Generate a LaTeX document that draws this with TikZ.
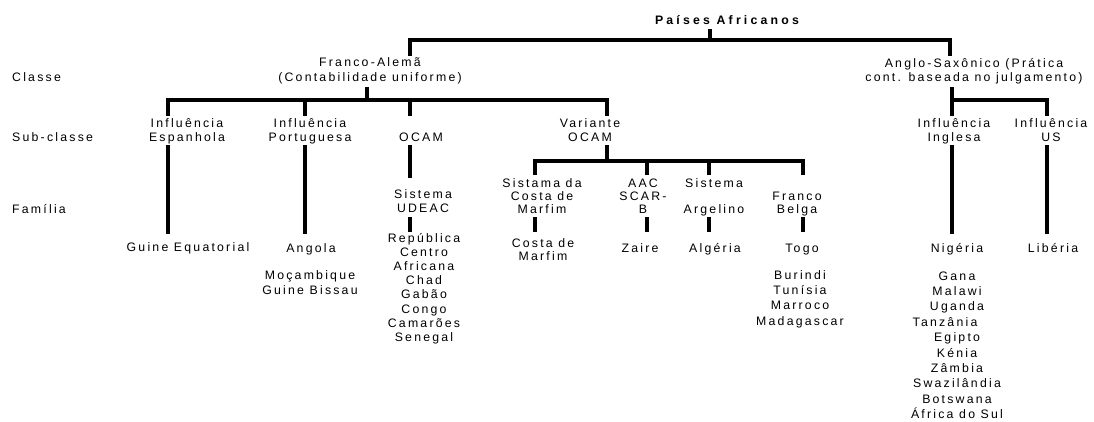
\documentclass[tikz,border=0pt]{standalone}
\usepackage{fontspec}
\setmainfont{Liberation Sans}[LetterSpace=18, BoldFeatures={LetterSpace=26}]
\newcommand\ml[2]{{\fontsize{12.3}{#1}\selectfont\begin{tabular}[t]{@{}c@{}}#2\end{tabular}}}
\tikzset{
  lbl/.style={inner sep=0pt, anchor=base, font=\fontsize{12.3}{14}\selectfont},
  lft/.style={lbl, anchor=base west},
  bar/.style={line width=3.8pt, line join=miter, line cap=butt}
}
\begin{document}
\begin{tikzpicture}[x=1pt,y=-1pt]
\useasboundingbox (0,0) rectangle (1094,421);
\fill[white] (0,0) rectangle (1094,421);

% row labels
\node[lft] (lclasse) at (12,81) {Classe};
\node[lft] (lsub) at (12,141) {Sub-classe};
\node[lft] (lfam) at (12,213) {Família};

% level 0
\node[lbl, font=\fontsize{12.3}{14}\selectfont\bfseries] (root) at (727,24.7) {Países Africanos};
\coordinate (root-b) at (710,29);
\coordinate (j0) at (710,40);

% level 1
\node[lbl] (fa) at (370,66) {\ml{15}{Franco-Alemã\\(Contabilidade uniforme)}};
\coordinate (fa-t) at (410,56);
\coordinate (fa-b) at (367,87);
\node[lbl] (as) at (974,67) {\ml{14.5}{Anglo-Saxônico (Prática\\cont. baseada no julgamento)}};
\coordinate (as-t) at (950,56);
\coordinate (as-b) at (952,87);

\draw[bar] (root-b) -- (j0);
\draw[bar] (fa-t) |- (j0) -| (as-t);

% level 2
\node[lbl] (esp) at (187,127) {\ml{14}{Influência\\Espanhola}};
\node[lbl] (por) at (310,127) {\ml{14}{Influência\\Portuguesa}};
\node[lbl] (ocam) at (421,141) {OCAM};
\node[lbl] (var) at (590,127) {\ml{14}{Variante\\OCAM}};
\node[lbl] (ing) at (954,127) {\ml{14}{Influência\\Inglesa}};
\node[lbl] (us) at (1051,127) {\ml{14}{Influência\\US}};

\coordinate (j1) at (367,100);
\coordinate (esp-t) at (168,116);
\coordinate (por-t) at (305,116);
\coordinate (ocam-t) at (410,116);
\coordinate (var-t) at (607,116);
\draw[bar] (fa-b) -- (j1);
\draw[bar] (esp-t) |- (j1) -| (var-t);
\draw[bar] (por-t) -- (por-t |- j1);
\draw[bar] (ocam-t) -- (ocam-t |- j1);

\coordinate (j2) at (952,100);
\coordinate (ing-t) at (952,116);
\coordinate (us-t) at (1047,116);
\draw[bar] (as-b) -- (ing-t);
\draw[bar] (j2) -| (us-t);

% level 2 -> 3 connectors
\coordinate (esp-b) at (168,145);
\coordinate (por-b) at (305,145);
\coordinate (ocam-b) at (410,145);
\coordinate (var-b) at (607,145);
\coordinate (ing-b) at (952,145);
\coordinate (us-b) at (1047,145);

\coordinate (geq-t) at (168,234);
\coordinate (ang-t) at (305,234);
\coordinate (udeac-t) at (410,178);
\coordinate (j3) at (607,161);
\coordinate (nig-t) at (952,234);
\coordinate (lib-t) at (1047,234);
\draw[bar] (esp-b) -- (geq-t);
\draw[bar] (por-b) -- (ang-t);
\draw[bar] (ocam-b) -- (udeac-t);
\draw[bar] (var-b) -- (j3);
\draw[bar] (ing-b) -- (nig-t);
\draw[bar] (us-b) -- (lib-t);

\coordinate (cdm-t) at (535,175);
\coordinate (aac-t) at (647,175);
\coordinate (arg-t) at (709,175);
\coordinate (fb-t) at (803,175);
\draw[bar] (cdm-t) |- (j3) -| (fb-t);
\draw[bar] (aac-t) -- (aac-t |- j3);
\draw[bar] (arg-t) -- (arg-t |- j3);

% level 3
\node[lbl] (udeac) at (423,198) {\ml{14}{Sistema\\UDEAC}};
\node[lbl] (cdm) at (542,187) {\ml{13}{Sistama da\\Costa de\\Marfim}};
\node[lbl] (aac) at (643,187) {\ml{13}{AAC\\SCAR-\\B}};
\node[lbl] (arg) at (714,187) {\ml{13}{Sistema\\{}\\Argelino}};
\node[lbl] (fb) at (797,200) {\ml{13}{Franco\\Belga}};

\coordinate (udeac-b) at (410,217);
\coordinate (rep-t) at (410,232);
\coordinate (cdm-b) at (535,217);
\coordinate (cdml-t) at (535,232);
\coordinate (aac-b) at (647,217);
\coordinate (zai-t) at (647,232);
\coordinate (arg-b) at (709,217);
\coordinate (alg-t) at (709,232);
\coordinate (fb-b) at (803,217);
\coordinate (tog-t) at (803,232);
\draw[bar] (udeac-b) -- (rep-t);
\draw[bar] (cdm-b) -- (cdml-t);
\draw[bar] (aac-b) -- (zai-t);
\draw[bar] (arg-b) -- (alg-t);
\draw[bar] (fb-b) -- (tog-t);

% level 4
\node[lbl] (geq) at (188,251) {Guine Equatorial};
\node[lbl] (ang) at (311,252) {Angola};
\node[lbl] (anglist) at (310,279) {\ml{15}{Moçambique\\Guine Bissau}};
\node[lbl] (rep) at (424,242) {\ml{14.2}{República\\Centro\\Africana\\Chad\\Gabão\\Congo\\Camarões\\Senegal}};
\node[lbl] (cdml) at (543,247) {\ml{13}{Costa de\\Marfim}};
\node[lbl] (zai) at (640,252) {Zaire};
\node[lbl] (alg) at (715,252) {Algéria};
\node[lbl] (tog) at (802,252) {Togo};
\node[lbl] (toglist) at (800,279) {\ml{15.4}{Burindi\\Tunísia\\Marroco\\Madagascar}};
\node[lbl] (nig) at (957,252) {Nigéria};
\node[lbl] (niglist) at (957,280) {\ml{15.4}{Gana\\Malawi\\Uganda\\Tanzânia\kern24pt\\Egipto\\Kénia\\Zâmbia\\Swazilândia\\Botswana\\África do Sul}};
\node[lbl] (lib) at (1053,252) {Libéria};
\end{tikzpicture}
\end{document}
